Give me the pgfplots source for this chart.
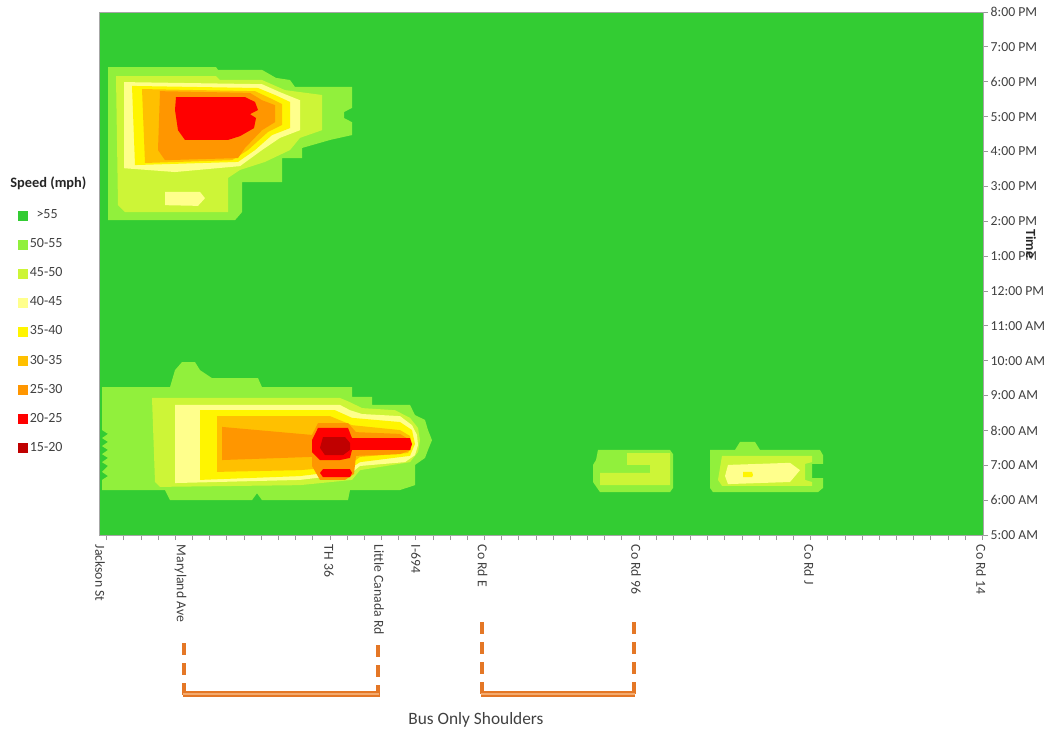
\documentclass[border=0pt]{standalone}
\usepackage{pgfplots}
\pgfplotsset{compat=1.18}
\usepackage{fontspec}
\setmainfont{Carlito}
\definecolor{c55}{RGB}{51,204,51}
\definecolor{c50}{RGB}{145,240,60}
\definecolor{c45}{RGB}{205,245,55}
\definecolor{c40}{RGB}{255,255,140}
\definecolor{c35}{RGB}{255,245,0}
\definecolor{c30}{RGB}{255,192,0}
\definecolor{c25}{RGB}{255,150,0}
\definecolor{c20}{RGB}{255,0,0}
\definecolor{c15}{RGB}{192,0,0}
\definecolor{busor}{RGB}{228,119,38}
\definecolor{busorl}{RGB}{244,170,110}
\definecolor{txt}{RGB}{64,64,64}
\begin{document}
\begin{tikzpicture}
\begin{axis}[
  at={(0,0)}, anchor=south west,
  scale only axis, width=662.625pt, height=392.25pt,
  xmin=99.5, xmax=983, ymin=5, ymax=20,
  axis background/.style={fill=c55},
  axis line style={draw=black!35, line width=0.6pt},
  tick align=outside,
  xtick={100,180.5,329,379,416,482.5,636,809,981},
  xticklabels={Jackson St,Maryland Ave,TH 36,Little Canada Rd,I-694,Co Rd E,Co Rd 96,Co Rd J,Co Rd 14},
  xtick pos=left,
  minor xtick={106.7,123.87,...,990},
  every major x tick/.style={draw=none},
  every minor x tick/.style={draw=black!40, line width=0.6pt},
  minor tick length=3.75pt, major tick length=3.75pt,
  xticklabel style={rotate=-90, anchor=west, font=\fontsize{10.3}{12}\selectfont, text=txt},
  ytick={5,...,20},
  yticklabels={5:00 AM,6:00 AM,7:00 AM,8:00 AM,9:00 AM,10:00 AM,11:00 AM,12:00 PM,1:00 PM,2:00 PM,3:00 PM,4:00 PM,5:00 PM,6:00 PM,7:00 PM,8:00 PM},
  ytick pos=right, yticklabel pos=right,
  every major y tick/.style={draw=black!40, line width=0.6pt},
  yticklabel style={font=\fontsize{10.3}{12}\selectfont, text=txt, xshift=-1.5pt},
  legend style={draw=none, fill=none, at={(axis description cs:-0.0968,0.631)}, anchor=north west,
    font=\fontsize{10.5}{12}\selectfont, text=txt, row sep=10.45pt, nodes={inner sep=1.5pt}},
  legend cell align=left,
]
% ---------- AM peak, Jackson St to I-694 ----------
\addplot[fill=c50, draw=none, forget plot] coordinates {
(102,9.24)(170,9.24)(175,9.73)(182,9.96)(195,9.96)(200,9.73)(212,9.50)(258,9.50)(262,9.24)(352,9.24)(352,8.96)(372,8.96)(372,8.73)(410,8.73)(415,8.44)(425,8.30)(428,8.01)(432,7.72)(428,7.44)(425,7.21)(415,7.01)(415,6.43)(400,6.29)(350,6.29)(348,6.00)(262,6.00)(257,6.20)(252,6.00)(170,6.00)(165,6.29)(102,6.29)
(102,6.58)(108,6.69)(102,6.81)(108,6.98)(102,7.09)(108,7.21)(102,7.32)(108,7.44)(102,7.55)(108,7.67)(102,7.78)(108,7.90)(102,8.01)} --cycle;
\addplot[fill=c45, draw=none, forget plot] coordinates {
(152,8.93)(340,8.93)(350,8.81)(362,8.64)(395,8.58)(410,8.36)(418,8.07)(420,7.72)(418,7.38)(410,7.09)(360,6.86)(352,6.58)(300,6.43)(160,6.38)(155,6.52)} --cycle;
\addplot[fill=c40, draw=none, forget plot] coordinates {
(175,8.73)(340,8.73)(350,8.58)(362,8.47)(400,8.41)(412,8.15)(417,7.87)(418,7.58)(415,7.29)(405,7.09)(360,6.98)(350,6.75)(300,6.58)(175,6.49)} --cycle;
\addplot[fill=c35, draw=none, forget plot] coordinates {
(200,8.58)(335,8.58)(352,8.36)(400,8.24)(412,8.01)(415,7.61)(410,7.27)(360,7.09)(348,6.86)(300,6.69)(200,6.58)} --cycle;
\addplot[fill=c30, draw=none, forget plot] coordinates {
(217,8.41)(330,8.41)(352,8.15)(400,8.01)(410,7.84)(412,7.58)(408,7.35)(360,7.24)(348,6.98)(300,6.86)(217,6.81)} --cycle;
\addplot[fill=c25, draw=none, forget plot] coordinates {
(222,8.10)(312,7.87)(318,8.21)(348,8.21)(356,7.95)(400,7.90)(410,7.72)(411,7.44)(400,7.32)(356,7.27)(354,6.75)(345,6.58)(320,6.58)(312,6.98)(312,7.24)(222,7.15)} --cycle;
\addplot[fill=c20, draw=none, forget plot] coordinates {
(312,7.72)(318,8.07)(348,8.07)(352,7.78)(410,7.78)(412,7.61)(410,7.44)(352,7.44)(350,7.21)(340,7.15)(320,7.15)(312,7.38)} --cycle;
\addplot[fill=c20, draw=none, forget plot] coordinates {
(323,6.89)(350,6.89)(352,6.78)(350,6.66)(323,6.66)(320,6.78)} --cycle;
\addplot[fill=c15, draw=none, forget plot] coordinates {
(323,7.81)(345,7.81)(350,7.64)(350,7.44)(343,7.29)(325,7.29)(320,7.50)} --cycle;
% ---------- PM peak ----------
\addplot[fill=c50, draw=none, forget plot] coordinates {
(108,18.42)(216,18.42)(218,18.34)(262,18.34)(276,18.11)(290,18.05)(295,17.85)(352,17.85)(352,17.25)(344,17.13)(344,16.96)(352,16.84)(352,16.47)(330,16.33)(302,16.10)(302,15.81)(282,15.81)(282,15.12)(242,15.12)(242,14.26)(235,14.03)(108,14.03)} --cycle;
\addplot[fill=c45, draw=none, forget plot] coordinates {
(116,18.16)(216,18.16)(220,18.05)(262,18.05)(285,17.76)(322,17.62)(322,16.61)(300,16.39)(290,16.04)(265,15.70)(240,15.47)(228,15.24)(228,14.26)(125,14.26)(118,14.46)} --cycle;
\addplot[fill=c40, draw=none, forget plot] coordinates {
(165,14.84)(200,14.84)(205,14.66)(198,14.44)(165,14.46)} --cycle;
\addplot[fill=c40, draw=none, forget plot] coordinates {
(124,17.99)(262,17.93)(280,17.70)(300,17.47)(300,16.61)(280,16.39)(262,16.04)(240,15.58)(175,15.41)(124,15.52)} --cycle;
\addplot[fill=c35, draw=none, forget plot] coordinates {
(132,17.88)(258,17.82)(275,17.62)(290,17.42)(290,16.67)(272,16.47)(255,16.04)(238,15.70)(135,15.61)} --cycle;
\addplot[fill=c30, draw=none, forget plot] coordinates {
(142,17.79)(255,17.73)(270,17.53)(282,17.36)(282,16.76)(268,16.56)(248,16.04)(232,15.75)(145,15.67)} --cycle;
\addplot[fill=c25, draw=none, forget plot] coordinates {
(160,17.73)(250,17.68)(262,17.47)(275,17.33)(275,16.84)(262,16.61)(245,16.10)(238,15.81)(165,15.75)(158,16.04)} --cycle;
\addplot[fill=c20, draw=none, forget plot] coordinates {
(176,17.56)(245,17.56)(255,17.42)(258,17.19)(250,17.07)(256,16.96)(254,16.67)(240,16.44)(228,16.33)(185,16.33)(178,16.61)(175,17.19)} --cycle;
% ---------- Co Rd 96 ----------
\addplot[fill=c50, draw=none, forget plot] coordinates {
(598,7.44)(670,7.44)(673,7.32)(673,6.35)(670,6.23)(600,6.23)(593,6.52)(593,7.01)(596,7.15)} --cycle;
\addplot[fill=c45, draw=none, forget plot] coordinates {
(627,7.35)(670,7.35)(670,6.43)(600,6.43)(600,6.78)(650,6.78)(650,7.01)(627,7.01)} --cycle;
% ---------- Co Rd J ----------
\addplot[fill=c50, draw=none, forget plot] coordinates {
(710,7.44)(735,7.44)(740,7.67)(755,7.67)(760,7.44)(820,7.44)(823,7.29)(823,7.04)(812,7.04)(812,6.63)(823,6.63)(823,6.35)(818,6.23)(713,6.23)(710,6.35)} --cycle;
\addplot[fill=c45, draw=none, forget plot] coordinates {
(722,7.27)(812,7.27)(812,7.09)(805,7.04)(805,6.58)(812,6.52)(812,6.41)(722,6.41)(718,6.58)} --cycle;
\addplot[fill=c40, draw=none, forget plot] coordinates {
(728,7.01)(790,7.07)(800,6.86)(790,6.52)(728,6.46)(725,6.69)} --cycle;
\addplot[fill=c35, draw=none, forget plot] coordinates {
(743,6.81)(752,6.81)(753,6.72)(752,6.66)(743,6.66)} --cycle;
% ---------- legend ----------
\addlegendimage{legend image code/.code={\fill[c55] (0pt,-3.4pt) rectangle (6.8pt,3.4pt);}}
\addlegendentry{\hspace{5pt}>55}
\addlegendimage{legend image code/.code={\fill[c50] (0pt,-3.4pt) rectangle (6.8pt,3.4pt);}}
\addlegendentry{50-55}
\addlegendimage{legend image code/.code={\fill[c45] (0pt,-3.4pt) rectangle (6.8pt,3.4pt);}}
\addlegendentry{45-50}
\addlegendimage{legend image code/.code={\fill[c40] (0pt,-3.4pt) rectangle (6.8pt,3.4pt);}}
\addlegendentry{40-45}
\addlegendimage{legend image code/.code={\fill[c35] (0pt,-3.4pt) rectangle (6.8pt,3.4pt);}}
\addlegendentry{35-40}
\addlegendimage{legend image code/.code={\fill[c30] (0pt,-3.4pt) rectangle (6.8pt,3.4pt);}}
\addlegendentry{30-35}
\addlegendimage{legend image code/.code={\fill[c25] (0pt,-3.4pt) rectangle (6.8pt,3.4pt);}}
\addlegendentry{25-30}
\addlegendimage{legend image code/.code={\fill[c20] (0pt,-3.4pt) rectangle (6.8pt,3.4pt);}}
\addlegendentry{20-25}
\addlegendimage{legend image code/.code={\fill[c15] (0pt,-3.4pt) rectangle (6.8pt,3.4pt);}}
\addlegendentry{15-20}
\end{axis}
\begin{scope}[x=0.75pt, y=-0.75pt, shift={(-74.625pt,401.25pt)}]
  \node[anchor=west, font=\bfseries\fontsize{10.8}{12}\selectfont, text=black!85, inner sep=0pt] at (10,183) {Speed (mph)};
  \node[rotate=-90, font=\bfseries\fontsize{10.5}{12}\selectfont, text=black!85, inner sep=0pt] at (1031,244) {Time};
  \draw[busor, line width=2.3pt, dash pattern=on 9pt off 6pt] (184,643) -- (184,697);
  \draw[busor, line width=2.3pt, dash pattern=on 9pt off 6pt] (378,645) -- (378,697);
  \draw[busor, line width=2.3pt, dash pattern=on 9pt off 6pt] (482,622) -- (482,697);
  \draw[busor, line width=2.3pt, dash pattern=on 9pt off 6pt] (634,622) -- (634,697);
  \draw[busor, line width=1.9pt, double=busorl, double distance=1.2pt] (183,694) -- (379,694);
  \draw[busor, line width=1.9pt, double=busorl, double distance=1.2pt] (481,694) -- (635,694);
  \node[font=\fontsize{13}{15}\selectfont, text=txt] at (476,720) {Bus Only Shoulders};
\end{scope}
\pgfresetboundingbox
\path[use as bounding box] (-74.625pt,-148.5pt) rectangle (709.125pt,401.25pt);
\end{tikzpicture}
\end{document}
